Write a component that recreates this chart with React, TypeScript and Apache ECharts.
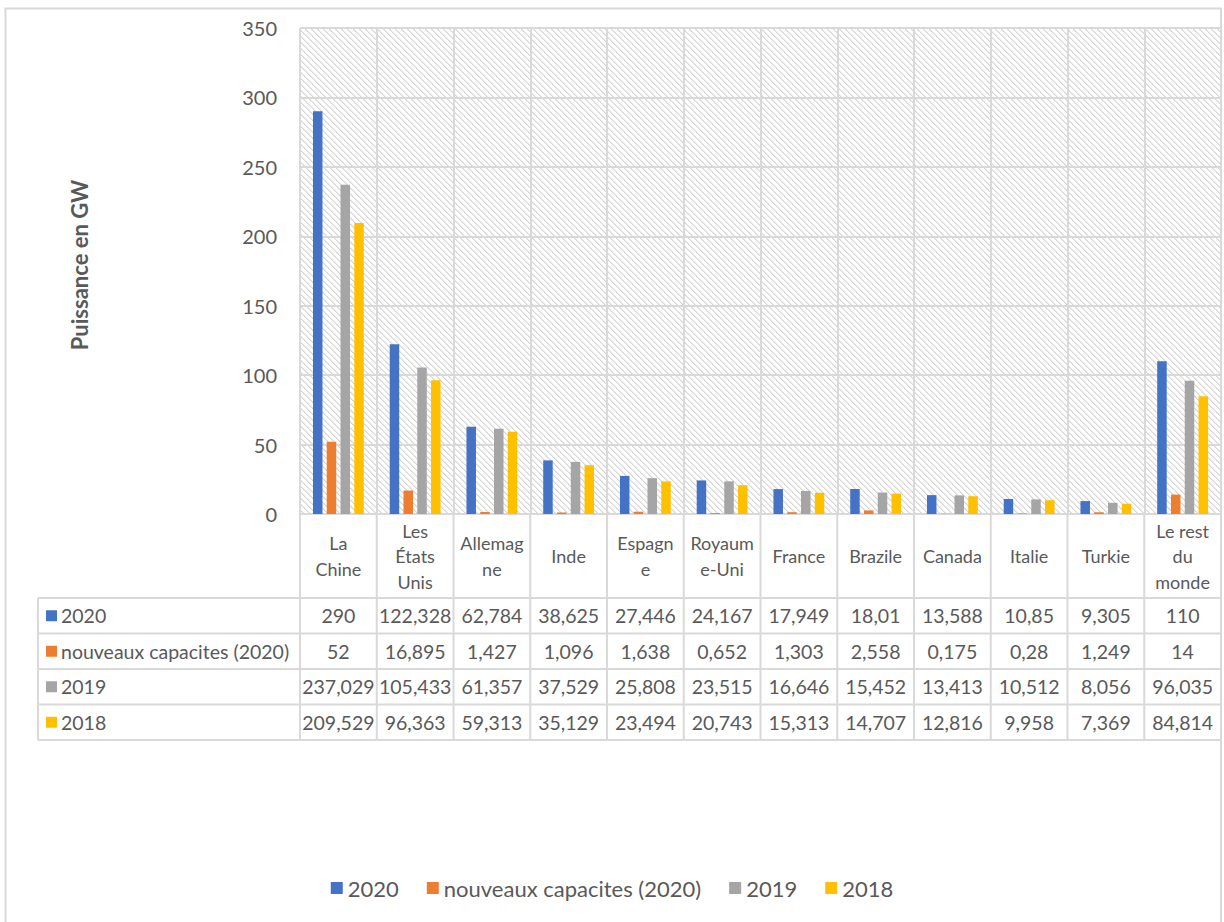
import React, { useEffect, useRef } from "react";
import * as echarts from "echarts";

const categories = [
  "La Chine", "Les États Unis", "Allemagne", "Inde", "Espagne", "Royaume-Uni",
  "France", "Brazile", "Canada", "Italie", "Turkie", "Le rest du monde",
];
const categoryLabels = [
  "La\nChine", "Les\nÉtats\nUnis", "Allemag\nne", "Inde", "Espagn\ne", "Royaum\ne-Uni",
  "France", "Brazile", "Canada", "Italie", "Turkie", "Le rest\ndu\nmonde",
];
const seriesNames = ["2020", "nouveaux capacites (2020)", "2019", "2018"];
const values2020 = [290, 122.328, 62.784, 38.625, 27.446, 24.167, 17.949, 18.01, 13.588, 10.85, 9.305, 110];
const valuesNew2020 = [52, 16.895, 1.427, 1.096, 1.638, 0.652, 1.303, 2.558, 0.175, 0.28, 1.249, 14];
const values2019 = [237.029, 105.433, 61.357, 37.529, 25.808, 23.515, 16.646, 15.452, 13.413, 10.512, 8.056, 96.035];
const values2018 = [209.529, 96.363, 59.313, 35.129, 23.494, 20.743, 15.313, 14.707, 12.816, 9.958, 7.369, 84.814];
const yMin = 0;
const yMax = 350;
const yInterval = 50;
const yAxisTitle = "Puissance en GW";

const seriesValues = [values2020, valuesNew2020, values2019, values2018];
const colors = ["#4472C4", "#ED7D31", "#A5A5A5", "#FFC000"];

const FONT = "Lato, 'Open Sans', sans-serif";
const TEXT = "#595959";
const LINE = "#d9d9d9";

// layout
const W = 1224;
const H = 922;
const PLOT_L = 300;
const PLOT_R = 1221;
const PLOT_T = 28;
const PLOT_B = 514;
const HEADER_B = 598;
const ROW_H = 35.5;
const TABLE_L = 38;

const fmt = (v: number) => String(v).replace(".", ",");

function makeHatch() {
  const c = document.createElement("canvas");
  const n = 6;
  c.width = n;
  c.height = n;
  const ctx = c.getContext("2d")!;
  ctx.fillStyle = "#ffffff";
  ctx.fillRect(0, 0, n, n);
  for (let i = 0; i < n; i++) {
    ctx.fillStyle = "#d6d6d6";
    ctx.fillRect(i, i, 1, 1);
    ctx.fillStyle = "#e8e8e8";
    ctx.fillRect((i + 1) % n, i, 1, 1);
  }
  return c;
}

export default function App() {
  const ref = useRef<HTMLDivElement>(null);
  useEffect(() => {
    if (!ref.current) return;
    const chart = echarts.init(ref.current, undefined, { renderer: "svg" });
    const nCat = categories.length;
    const colW = (PLOT_R - PLOT_L) / nCat;
    const tableBottom = HEADER_B + ROW_H * seriesNames.length;

    const graphics: any[] = [];
    // frame
    graphics.push({
      type: "rect",
      shape: { x: 5.5, y: 8.5, width: PLOT_R - 5.5, height: H + 20 },
      style: { fill: "none", stroke: LINE, lineWidth: 2 },
      silent: true,
      z: 0,
    });
    // vertical table lines
    for (let i = 0; i <= nCat; i++) {
      const x = PLOT_L + i * colW;
      graphics.push({
        type: "line",
        shape: { x1: x, y1: PLOT_B, x2: x, y2: tableBottom },
        style: { stroke: LINE, lineWidth: 2 },
        silent: true,
      });
    }
    graphics.push({
      type: "line",
      shape: { x1: TABLE_L, y1: HEADER_B, x2: TABLE_L, y2: tableBottom },
      style: { stroke: LINE, lineWidth: 2 },
      silent: true,
    });
    for (let r = 0; r <= seriesNames.length; r++) {
      const y = HEADER_B + r * ROW_H;
      graphics.push({
        type: "line",
        shape: { x1: TABLE_L, y1: y, x2: PLOT_R, y2: y },
        style: { stroke: LINE, lineWidth: 2 },
        silent: true,
      });
    }
    // table row labels and values
    seriesNames.forEach((name, r) => {
      const cy = HEADER_B + r * ROW_H + ROW_H / 2;
      graphics.push({
        type: "rect",
        shape: { x: 46, y: cy - 5.5, width: 11, height: 11 },
        style: { fill: colors[r] },
        silent: true,
      });
      graphics.push({
        type: "text",
        x: 61,
        y: cy,
        style: {
          text: name,
          font: `19.5px ${FONT}`,
          fill: TEXT,
          textAlign: "left",
          textVerticalAlign: "middle",
        },
        silent: true,
      });
      seriesValues[r].forEach((v, c) => {
        graphics.push({
          type: "text",
          x: PLOT_L + (c + 0.5) * colW,
          y: cy,
          style: {
            text: fmt(v),
            font: `19.5px ${FONT}`,
            fill: TEXT,
            textAlign: "center",
            textVerticalAlign: "middle",
          },
          silent: true,
        });
      });
    });

    const hatch = makeHatch();

    chart.setOption({
      animation: false,
      backgroundColor: "#ffffff",
      textStyle: { fontFamily: FONT },
      grid: {
        left: PLOT_L,
        top: PLOT_T,
        width: PLOT_R - PLOT_L,
        height: PLOT_B - PLOT_T,
        show: true,
        backgroundColor: { image: hatch as any, repeat: "repeat" } as any,
        borderWidth: 0,
      },
      legend: {
        data: seriesNames,
        bottom: 18,
        left: "center",
        icon: "rect",
        itemWidth: 12,
        itemHeight: 12,
        itemGap: 28,
        textStyle: { fontSize: 22, color: TEXT, fontFamily: FONT },
      },
      xAxis: {
        type: "category",
        data: categories,
        axisLine: { show: true, lineStyle: { color: LINE, width: 2 } },
        axisTick: { show: false },
        splitLine: { show: true, lineStyle: { color: LINE, width: 2 } },
        axisLabel: {
          interval: 0,
          formatter: (_v: string, i: number) => categoryLabels[i],
          fontSize: 18,
          lineHeight: 25.5,
          color: TEXT,
          fontFamily: FONT,
          verticalAlign: "middle",
          margin: (HEADER_B - PLOT_B) / 2,
        },
      },
      yAxis: {
        type: "value",
        min: yMin,
        max: yMax,
        interval: yInterval,
        name: yAxisTitle,
        nameLocation: "middle",
        nameGap: 210,
        nameTextStyle: { fontSize: 22, fontWeight: "bold", color: TEXT, fontFamily: FONT, padding: [0, 0, 0, 12] },
        axisLine: { show: false },
        axisTick: { show: false },
        splitLine: { show: true, lineStyle: { color: LINE, width: 2 } },
        axisLabel: { fontSize: 20, color: TEXT, margin: 23, fontFamily: FONT },
      },
      series: seriesNames.map((name, i) => ({
        name,
        type: "bar",
        data: seriesValues[i],
        barWidth: 9.5,
        barGap: "45%",
        itemStyle: { color: colors[i] },
      })),
      graphic: graphics,
    });
    return () => chart.dispose();
  }, []);
  return (
    <div
      ref={ref}
      style={{ position: "absolute", left: 0, top: 0, width: W, height: H }}
    />
  );
}
